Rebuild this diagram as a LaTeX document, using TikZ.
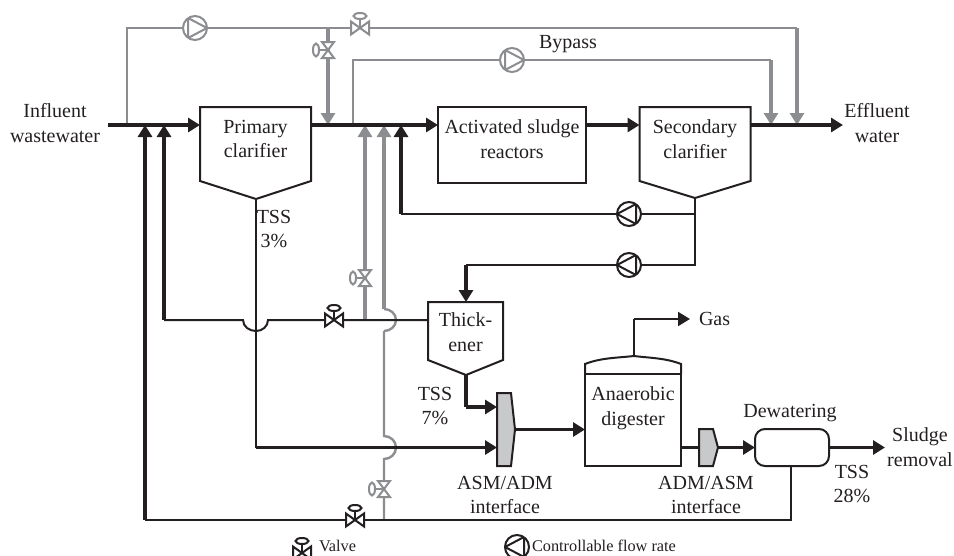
\documentclass[tikz,border=0pt]{standalone}
\usepackage{fontspec}
\setmainfont{Liberation Serif}
\usetikzlibrary{arrows.meta}
\definecolor{flowgrey}{RGB}{140,141,144}
\definecolor{ifacegrey}{RGB}{200,201,203}
\definecolor{inkblack}{RGB}{35,31,32}
\begin{document}
\begin{tikzpicture}[x=1pt, y=-1pt, color=inkblack,
    every node/.style = {inner sep=0pt, outer sep=0pt},
    txt/.style = {align=center, font=\fontsize{20}{24.5}\selectfont},
    small/.style = {font=\fontsize{16.3}{18}\selectfont},
    main/.style = {line width=2pt},
    tank/.style = {minimum width=#1},
    tank/.default = {111pt},
    unit/.style = {draw, main},
    thin/.style = {line width=2pt},
    thick/.style = {line width=3.6pt},
    gthin/.style = {line width=2.4pt, flowgrey},
    gthick/.style = {line width=3.8pt, flowgrey},
    head/.style = {-{Triangle[length=12pt,width=14pt]}},
    pump/.style 2 args = {circle, draw=#2, main, minimum size=24pt,
        path picture={\draw[#2, main] ([xshift=#1*-7pt,yshift=10pt]path picture bounding box.center)
            -- ([xshift=#1*12pt]path picture bounding box.center)
            -- ([xshift=#1*-7pt,yshift=-10pt]path picture bounding box.center) -- cycle;}},
    valve/.pic = {
        \draw[main, fill=white] (-9,-6.5) -- (9,6.5) -- (9,-6.5) -- (-9,6.5) -- cycle;
        \draw[main] (0,0) -- (0,-9);
        \draw[main, fill=white] (0,-12) ellipse[x radius=6.5, y radius=3];},
    sidevalve/.pic = {
        \draw[main, fill=white] (-6,-8) -- (6,8) -- (-6,8) -- (6,-8) -- cycle;
        \draw[main] (0,0) -- (-9,0);
        \draw[main, fill=white] (-12,0) ellipse[x radius=3, y radius=6.5];}]
    \useasboundingbox (0,0) rectangle (954,555);

    \node[tank, minimum height=74pt, label={[txt,yshift=5pt]center:Primary\\clarifier}] (PC) at (255.5,144) {};
    \node[tank, minimum height=74pt, label={[txt,yshift=5pt]center:Secondary\\clarifier}] (SC) at (695,144) {};
    \node[unit, minimum width=148pt, minimum height=76pt, label={[txt,yshift=6pt]center:Activated sludge\\reactors}] (AS) at (512,145) {};
    \node[tank=75pt, minimum height=58pt, label={[txt,yshift=-1pt]center:Thick-\\ener}] (TH) at (465.5,331) {};
    \node[unit, minimum width=96pt, minimum height=92pt, label={[txt,yshift=12pt]center:Anaerobic\\digester}] (AD) at (633,420) {};
    \node[unit, rounded corners=10pt, minimum width=74pt, minimum height=37pt] (DW) at (792,447.5) {};
    \node[minimum width=18pt, minimum height=73pt] (AA) at (506,429.5) {};
    \node[minimum width=19pt, minimum height=37pt] (DA) at (708.5,447.5) {};

    \coordinate (PCtip) at (256,199);
    \coordinate (SCtip) at (695,198);
    \coordinate (THtip) at (466,375);
    \coordinate (DOME) at (634,356);

    \node[pump={1}{flowgrey}] (P1) at (195,28) {};
    \node[pump={1}{flowgrey}] (P2) at (512,60) {};
    \node[pump={-1}{inkblack}] (P3) at (629,214) {};
    \node[pump={-1}{inkblack}] (P4) at (629,265) {};
    \node[pump={-1}{inkblack}] (P5) at (517,547) {};

    \coordinate (V1) at (360,28);
    \coordinate (V2) at (328,50);
    \coordinate (V3) at (365,278);
    \coordinate (V4) at (334,320);
    \coordinate (V5) at (384,489);
    \coordinate (V6) at (355,520);
    \coordinate (V7) at (302,553);

    \coordinate (IN) at (108,125);
    \coordinate (OUT) at (843,125);
    \coordinate (GAS) at (690,319);
    \coordinate (SL) at (885,447.5);
    \coordinate (UF) at (256,447.5);

    \draw[gthin] (127,125) -- (127,28) -- (P1);
    \draw[gthin] (P1) -- (797,28);
    \draw[gthick, head] (328,28) -- (328,125);
    \draw[gthick, head] (797,28) -- (797,125);
    \draw[gthin] (353,125) -- (353,60) -- (P2);
    \draw[gthin] (P2) -- (771,60);
    \draw[gthick, head] (771,60) -- (771,125);

    \draw[gthick, head] (365,320) -- (365,125);
    \draw[gthin] (384,520) -- (384,459) to[out=0,in=-90] (396,447.5) to[out=90,in=0] (384,436) -- (384,331);
    \draw[gthin] (384,331) to[out=0,in=-90] (396,320) to[out=90,in=0] (384,309);
    \draw[gthick, head] (384,309) -- (384,125);

    \draw[thick, head] (IN) -- (PC.west |- IN);
    \draw[thick, head] (PC.east |- IN) -- (AS.west |- IN);
    \draw[thick, head] (AS.east |- OUT) -- (SC.west |- OUT);
    \draw[thick, head] (SC.east |- OUT) -- (OUT);

    \draw[thin] (SCtip) -- (SCtip |- P4) -- (P4);
    \draw[thin] (SCtip |- P3) -- (P3);
    \draw[thin] (P3) -- (401,214);
    \draw[thick, head] (401,214) -- (401,125);
    \draw[thin] (P4) -- (466,265);
    \draw[thick, head] (466,265) -- (TH.north -| 466,265);

    \draw[thick, head] (164,320) -- (164,125);
    \draw[thin] (164,320) -- (243,320) to[out=-90,in=180] (256,331) to[out=0,in=-90] (268,320) -- (TH.west |- V4);
    \draw[thin] (PCtip) -- (UF);
    \draw[thick, head] (UF) -- (AA.west |- UF);
    \draw[thick] (THtip) -- (466,407);
    \draw[thick, head] (466,407) -- (AA.west |- 466,407);

    \draw[thick, head] (AA.east) -- (AD.west |- AA.east);
    \draw[thick] (AD.east |- DA.west) -- (DA.west);
    \draw[thick, head] (DA.east) -- (DW.west);
    \draw[thick, head] (DW.east) -- (SL);
    \draw[thin] (DOME) -- (634,319);
    \draw[thin, head] (634,319) -- (GAS);

    \draw[thick, head] (145,520) -- (145,125);
    \draw[thin] (145,520) -- (791,520) -- (DW.south -| 791,520);

    \draw[unit] (PC.south west) -- (PC.north west) -- (PC.north east) -- (PC.south east) -- (PCtip) -- cycle;
    \draw[unit] (SC.south west) -- (SC.north west) -- (SC.north east) -- (SC.south east) -- (SCtip) -- cycle;
    \draw[unit] (TH.south west) -- (TH.north west) -- (TH.north east) -- (TH.south east) -- (THtip) -- cycle;
    \draw[unit, fill=ifacegrey] (AA.north west) -- ([xshift=-4pt]AA.north east) -- (AA.east) -- ([xshift=-4pt]AA.south east) -- (AA.south west) -- cycle;
    \draw[unit, fill=ifacegrey] (DA.north west) -- ([xshift=-5pt]DA.north east) -- (DA.east) -- ([xshift=-5pt]DA.south east) -- (DA.south west) -- cycle;
    \draw[unit] (AD.north west) -- ++(0,-10) .. controls (600,358) and (615,358) .. (DOME) .. controls (650,358) and (666,358) .. (681,364) -- (AD.north east);

    \pic[flowgrey] at (V1) {valve};
    \pic[flowgrey] at (V2) {sidevalve};
    \pic[flowgrey] at (V3) {sidevalve};
    \pic at (V4) {valve};
    \pic[flowgrey] at (V5) {sidevalve};
    \pic at (V6) {valve};
    \pic at (V7) {valve};

    \node[txt] (tIN) at (55,123) {Influent\\wastewater};
    \node[txt] (tOUT) at (877,123) {Effluent\\water};
    \node[txt] (tBY) at (568,44) {Bypass};
    \node[txt] (tT3) at (274,229) {TSS\\3\%};
    \node[txt] (tT7) at (435,406) {TSS\\7\%};
    \node[txt] (tT28) at (852,484) {TSS\\28\%};
    \node[txt, anchor=west] (tGAS) at (699,319) {Gas};
    \node[txt] (tDW) at (790,413) {Dewatering};
    \node[txt] (tSL) at (920,447) {Sludge\\removal};
    \node[txt] (tAA) at (505,495) {ASM/ADM\\interface};
    \node[txt] (tDA) at (706,495) {ADM/ASM\\interface};
    \node[small, anchor=west] (tV) at (319,546) {Valve};
    \node[small, anchor=west] (tP) at (532,546) {Controllable flow rate};
\end{tikzpicture}
\end{document}
